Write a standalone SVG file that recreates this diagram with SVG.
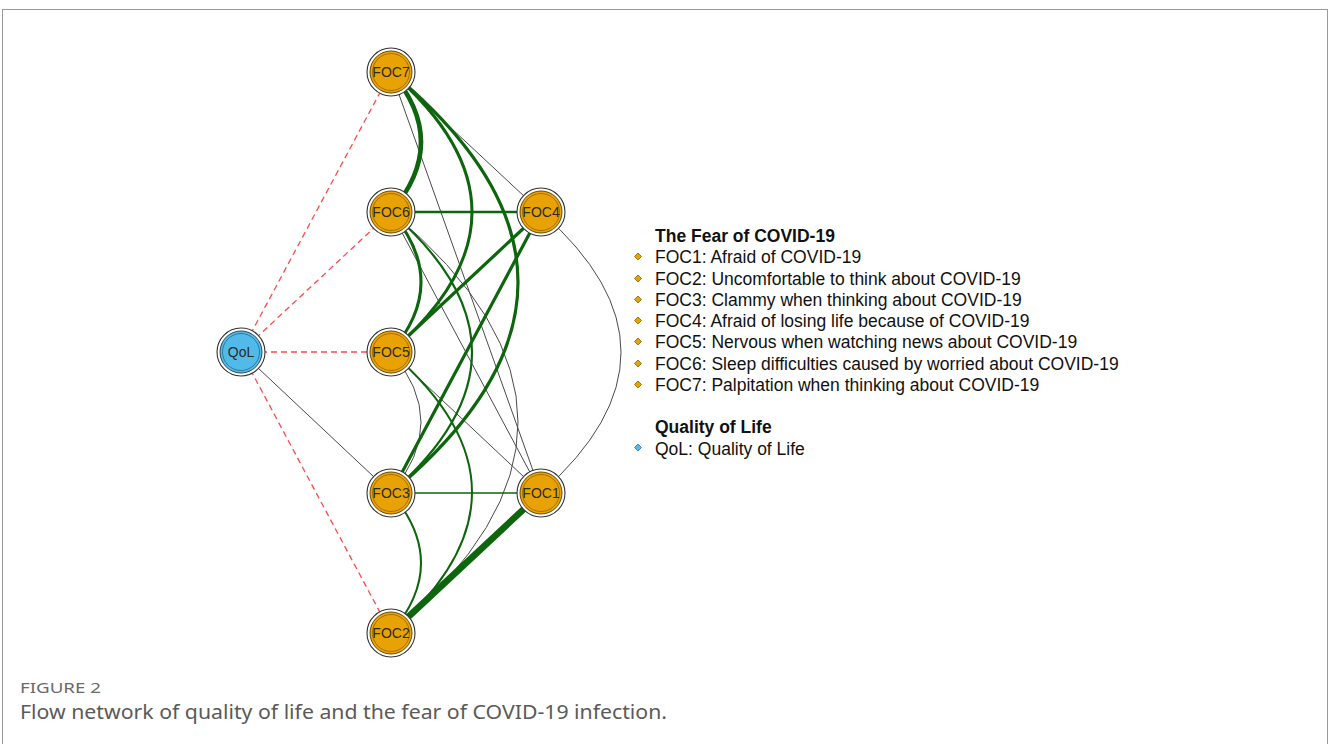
<svg xmlns="http://www.w3.org/2000/svg" width="1330" height="744" viewBox="0 0 1330 744">
<style>
.pos{fill:none;stroke:#0d650d;stroke-linecap:round}
.weak{fill:none;stroke:#4a4a4a;stroke-width:1}
.neg{fill:none;stroke:#ff4a4a;stroke-width:1.3;stroke-dasharray:6 4}
.ring{fill:#fff;stroke:#333;stroke-width:1.1}
.foc{fill:#E9A204;stroke:#6a4c00;stroke-width:1}
.qol{fill:#52BAE9;stroke:#2c4a5a;stroke-width:1}
.inr{fill:none;stroke:#a87000;stroke-width:1}
.inrq{fill:none;stroke:#2e7aa0;stroke-width:1}
.lbl{font-family:"Liberation Sans",Arial,sans-serif;font-size:14px;fill:#2a2a2a;text-anchor:middle}
.leg{font-family:"Liberation Sans",Arial,sans-serif;font-size:17.5px;fill:#111}
.legh{font-family:"Liberation Sans",Arial,sans-serif;font-size:17.5px;font-weight:bold;fill:#111}
.cap1{font-family:"Noto Sans","Open Sans",sans-serif;font-size:14px;fill:#6a6a6a}
.cap2{font-family:"Noto Sans","Open Sans",sans-serif;font-size:19px;fill:#5a5a5a}
</style>
<rect x="2.5" y="9.5" width="1325" height="745" fill="#fff" stroke="#9a9a9a" stroke-width="1"/>
<g id="connectors">
  <line class="neg" x1="241" y1="352" x2="391" y2="72"/>
  <line class="neg" x1="241" y1="352" x2="391" y2="212"/>
  <line class="neg" x1="241" y1="352" x2="391" y2="352"/>
  <line class="neg" x1="241" y1="352" x2="391" y2="633"/>
  <line class="weak" x1="241" y1="352" x2="391" y2="493"/>
  <line class="weak" x1="391" y1="72" x2="541" y2="212"/>
  <line class="weak" x1="391" y1="72" x2="541" y2="493"/>
  <line class="weak" x1="391" y1="212" x2="541" y2="493"/>
  <line class="weak" x1="391" y1="352" x2="541" y2="493"/>
  <path class="weak" d="M391,212 Q645,422 391,633"/>
  <path class="weak" d="M391,352 Q451,422 391,493"/>
  <path class="weak" d="M541,212 Q701,352 541,493"/>
  <path class="pos" style="stroke-width:4.5" d="M391,72 Q451,142 391,212"/>
  <path class="pos" style="stroke-width:3" d="M391,72 Q553,212 391,352"/>
  <path class="pos" style="stroke-width:3.2" d="M391,72 Q645,282 391,493"/>
  <path class="pos" style="stroke-width:3" d="M391,212 Q451,282 391,352"/>
  <path class="pos" style="stroke-width:2.2" d="M391,212 Q553,352 391,493"/>
  <path class="pos" style="stroke-width:2" d="M391,352 Q553,492 391,633"/>
  <path class="pos" style="stroke-width:2" d="M391,493 Q451,563 391,633"/>
  <line class="pos" style="stroke-width:2.5" x1="391" y1="212" x2="541" y2="212"/>
  <line class="pos" style="stroke-width:3.2" x1="391" y1="352" x2="541" y2="212"/>
  <line class="pos" style="stroke-width:3.2" x1="391" y1="493" x2="541" y2="212"/>
  <line class="pos" style="stroke-width:1.5" x1="391" y1="493" x2="541" y2="493"/>
  <line class="pos" style="stroke-width:6.5" x1="391" y1="633" x2="541" y2="493"/>
</g>
<g id="node-FOC7">
  <circle class="ring" cx="391" cy="72" r="24"/><circle class="foc" cx="391" cy="72" r="21"/><circle class="inr" cx="391" cy="72" r="18.5"/>
  <text class="lbl" x="391" y="77">FOC7</text>
</g>
<g id="node-FOC6">
  <circle class="ring" cx="391" cy="212" r="24"/><circle class="foc" cx="391" cy="212" r="21"/><circle class="inr" cx="391" cy="212" r="18.5"/>
  <text class="lbl" x="391" y="217">FOC6</text>
</g>
<g id="node-FOC5">
  <circle class="ring" cx="391" cy="352" r="24"/><circle class="foc" cx="391" cy="352" r="21"/><circle class="inr" cx="391" cy="352" r="18.5"/>
  <text class="lbl" x="391" y="357">FOC5</text>
</g>
<g id="node-FOC3">
  <circle class="ring" cx="391" cy="493" r="24"/><circle class="foc" cx="391" cy="493" r="21"/><circle class="inr" cx="391" cy="493" r="18.5"/>
  <text class="lbl" x="391" y="498">FOC3</text>
</g>
<g id="node-FOC2">
  <circle class="ring" cx="391" cy="633" r="24"/><circle class="foc" cx="391" cy="633" r="21"/><circle class="inr" cx="391" cy="633" r="18.5"/>
  <text class="lbl" x="391" y="638">FOC2</text>
</g>
<g id="node-FOC4">
  <circle class="ring" cx="541" cy="212" r="24"/><circle class="foc" cx="541" cy="212" r="21"/><circle class="inr" cx="541" cy="212" r="18.5"/>
  <text class="lbl" x="541" y="217">FOC4</text>
</g>
<g id="node-FOC1">
  <circle class="ring" cx="541" cy="493" r="24"/><circle class="foc" cx="541" cy="493" r="21"/><circle class="inr" cx="541" cy="493" r="18.5"/>
  <text class="lbl" x="541" y="498">FOC1</text>
</g>
<g id="node-QoL">
  <circle class="ring" cx="241" cy="352" r="24"/><circle class="qol" cx="241" cy="352" r="21"/><circle class="inrq" cx="241" cy="352" r="18.5"/>
  <text class="lbl" x="241" y="357">QoL</text>
</g>
<g id="legend">
  <text class="legh" x="655" y="242">The Fear of COVID-19</text>
  <g fill="#E9A204" stroke="#8a6000" stroke-width="0.8">
    <path d="M638,253 l3.5,3.5 l-3.5,3.5 l-3.5,-3.5z"/>
    <path d="M638,275 l3.5,3.5 l-3.5,3.5 l-3.5,-3.5z"/>
    <path d="M638,296 l3.5,3.5 l-3.5,3.5 l-3.5,-3.5z"/>
    <path d="M638,317 l3.5,3.5 l-3.5,3.5 l-3.5,-3.5z"/>
    <path d="M638,338 l3.5,3.5 l-3.5,3.5 l-3.5,-3.5z"/>
    <path d="M638,360 l3.5,3.5 l-3.5,3.5 l-3.5,-3.5z"/>
    <path d="M638,381 l3.5,3.5 l-3.5,3.5 l-3.5,-3.5z"/>
  </g>
  <text class="leg" x="655" y="263">FOC1: Afraid of COVID-19</text>
  <text class="leg" x="655" y="285">FOC2: Uncomfortable to think about COVID-19</text>
  <text class="leg" x="655" y="306">FOC3: Clammy when thinking about COVID-19</text>
  <text class="leg" x="655" y="327">FOC4: Afraid of losing life because of COVID-19</text>
  <text class="leg" x="655" y="348">FOC5: Nervous when watching news about COVID-19</text>
  <text class="leg" x="655" y="370">FOC6: Sleep difficulties caused by worried about COVID-19</text>
  <text class="leg" x="655" y="391">FOC7: Palpitation when thinking about COVID-19</text>
  <text class="legh" x="655" y="433">Quality of Life</text>
  <path d="M638,444 l3.5,3.5 l-3.5,3.5 l-3.5,-3.5z" fill="#52BAE9" stroke="#2e7aa0" stroke-width="0.8"/>
  <text class="leg" x="655" y="455">QoL: Quality of Life</text>
</g>
<g id="caption">
  <text class="cap1" x="20" y="693" textLength="81" lengthAdjust="spacingAndGlyphs">FIGURE 2</text>
  <text class="cap2" x="20" y="719" textLength="647" lengthAdjust="spacingAndGlyphs">Flow network of quality of life and the fear of COVID-19 infection.</text>
</g>
</svg>
